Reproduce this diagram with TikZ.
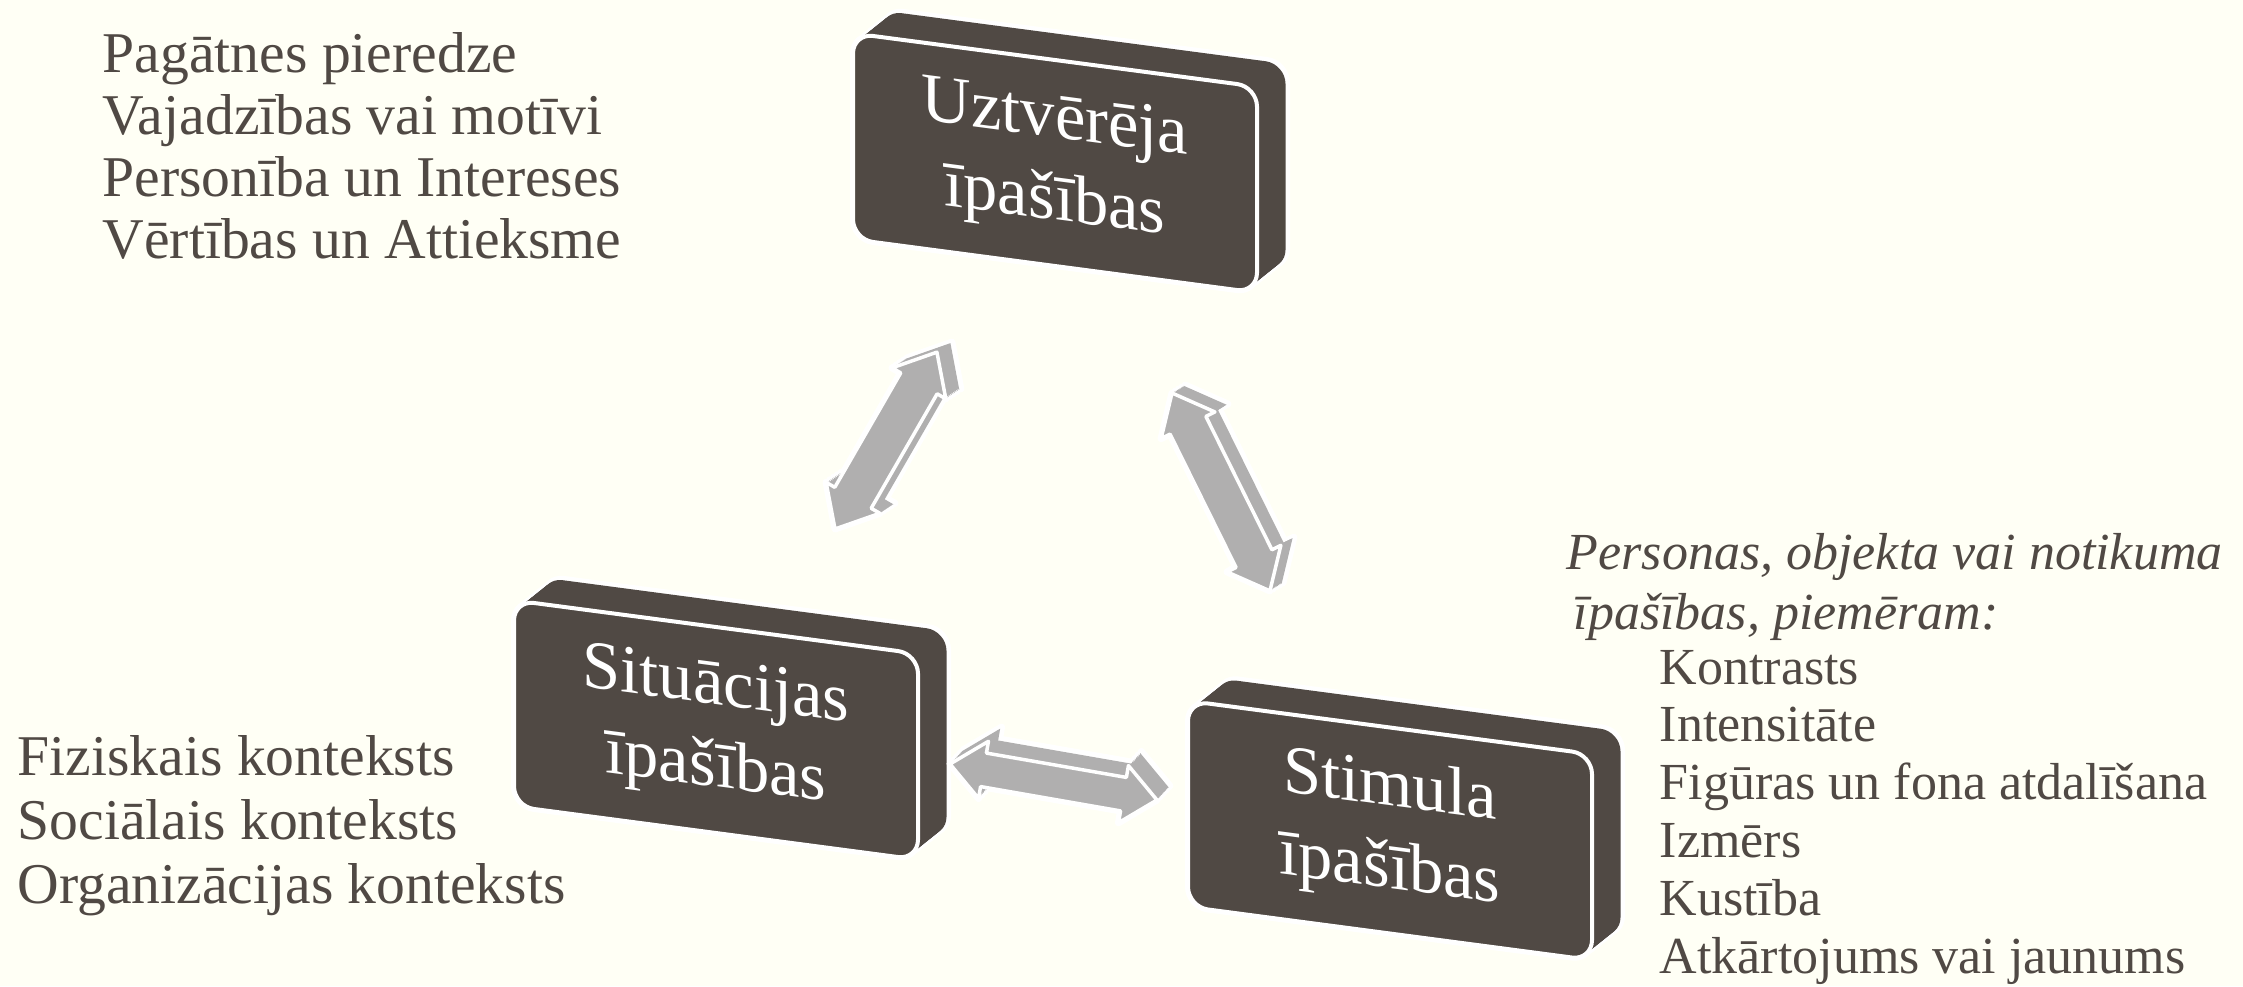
\documentclass[tikz,border=0pt]{standalone}
\usepackage{fontspec}
\setmainfont{Liberation Serif}
\usetikzlibrary{calc}

\definecolor{paper}{RGB}{255,255,245}
\definecolor{slabdark}{RGB}{80,73,68}
\definecolor{arrowgray}{RGB}{176,175,175}
\definecolor{inkbrown}{RGB}{80,73,68}

% outline of a flat double arrow along the x axis: shaft, head width, head length
\newcommand{\arrowpath}[3]{(0,0) -- (#3,#2) -- (#3,#1) -- (\blklen-#3,#1) -- (\blklen-#3,#2) -- (\blklen,0)
  -- (\blklen-#3,-#2) -- (\blklen-#3,-#1) -- (#3,-#1) -- (#3,-#2) -- cycle}

% extruded double arrow from #1 to #2
\newcommand{\blockarrow}[6]{%
  \path let \p1=($(#2)-(#1)$) in \pgfextra{%
    \pgfmathsetmacro\blkangtmp{atan2(\y1,\x1)}%
    \pgfmathsetmacro\blklentmp{veclen(\x1,\y1)/28.45274}%
    \global\let\blkang\blkangtmp \global\let\blklen\blklentmp};
  \foreach \dep in {0,0.25,...,1}
    \draw[arrowhalo, shift={(#1)}, shift={($\dep*(#6)$)}, rotate=\blkang] \arrowpath{#3}{#4}{#5};
  \foreach \dep in {0,0.1,...,1}
    \fill[arrowgray, shift={(#1)}, shift={($\dep*(#6)$)}, rotate=\blkang] \arrowpath{#3}{#4}{#5};
  \draw[arrowface, shift={(#1)}, rotate=\blkang] \arrowpath{#3}{#4}{#5};
}

% extruded slab at coordinate #1, named #2
\newcommand{\slab}[3]{%
  \foreach \dep in {0,0.2,...,1}
    \node[slabhalo] at ($(#1)+\dep*(0.30,0.24)$) {};
  \foreach \dep in {0,0.05,...,1}
    \node[slabbody] at ($(#1)+\dep*(0.30,0.24)$) {};
  \node[slabface] (#2) at (#1) {#3};
}

\begin{document}
\begin{tikzpicture}[
    slabbody/.style={rectangle, rounded corners=0.2cm, minimum width=4.04cm, minimum height=2.06cm,
      inner sep=0pt, yslant=-0.132, fill=slabdark},
    slabhalo/.style={slabbody, draw=white, line width=0.06cm},
    slabface/.style={slabbody, draw=white, line width=0.04cm, text=white, align=center,
      font=\fontsize{19.5}{23.5}\selectfont},
    arrowhalo/.style={draw=white, fill=white, line width=0.07cm, line join=round},
    arrowface/.style={fill=arrowgray, draw=white, line width=0.035cm, line join=round},
    listtext/.style={anchor=base west, inner sep=0pt, text=inkbrown, font=\fontsize{16.4}{18}\selectfont},
    stimtext/.style={listtext, font=\fontsize{14.8}{16}\selectfont}]

\fill[paper] (0,0) rectangle (22.43,9.86);
\useasboundingbox (0,0) rectangle (22.43,9.86);

\coordinate (uztc) at (10.55,8.23);
\coordinate (sitc) at (7.16,2.56);
\coordinate (stic) at (13.90,1.555);

\slab{uztc}{uzt}{Uztvērēja\\īpašības}
\slab{sitc}{sit}{Situācijas\\īpašības}
\slab{stic}{sti}{Stimula\\īpašības}

\coordinate (ua) at (8.35,4.57);
\coordinate (ub) at (9.37,6.34);
\coordinate (sa) at (11.72,5.93);
\coordinate (sb) at (12.70,3.95);
\coordinate (ca) at (9.50,2.22);
\coordinate (cb) at (11.57,1.86);

\blockarrow{ua}{ub}{0.21}{0.31}{0.36}{0.15,0.10}
\blockarrow{sa}{sb}{0.20}{0.30}{0.36}{0.13,0.08}
\blockarrow{ca}{cb}{0.17}{0.29}{0.34}{0.13,0.14}

\foreach \txt [count=\i] in {Pagātnes pieredze, Vajadzības vai motīvi, Personība un Intereses, Vērtības un Attieksme}
  \node[listtext] (pers\i) at (1.02,9.14-0.62*\i+0.62) {\txt};

\foreach \txt [count=\i] in {Fiziskais konteksts, Sociālais konteksts, Organizācijas konteksts}
  \node[listtext] (sit\i) at (0.17,2.11-0.64*\i+0.64) {\txt};

\node[stimtext] (stimhead) at (15.66,4.17) {\itshape Personas, objekta vai notikuma};
\node[stimtext] (stimsub) at (15.73,3.57) {\itshape īpašības, piemēram:};
\foreach \txt [count=\i] in {Kontrasts, Intensitāte, Figūras un fona atdalīšana, Izmērs, Kustība, Atkārtojums vai jaunums}
  \node[stimtext] (stim\i) at (16.59,3.02-0.578*\i+0.578) {\txt};
\end{tikzpicture}
\end{document}
